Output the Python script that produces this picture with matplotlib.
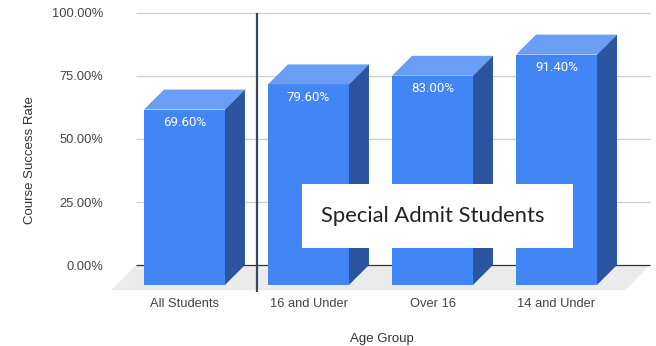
import matplotlib
matplotlib.use("Agg")
import matplotlib.pyplot as plt
from matplotlib.patches import Polygon, Rectangle

# data
groups = ["All Students", "16 and Under", "Over 16", "14 and Under"]
rates = [69.6, 79.6, 83.0, 91.4]
yticks = [0, 25, 50, 75, 100]

front_c = "#4285f4"
top_c = "#6a9ef5"
side_c = "#2b55a0"

# 3d look: depth offset in data units
dx, dy = 0.161, 7.9
w = 0.653

fig = plt.figure(figsize=(6.56, 3.46), dpi=100)
ax = fig.add_axes([108 / 656, (346 - 292) / 346, 548 / 656, 287 / 346])
ax.set_xlim(-0.617, 3.802)
ax.set_ylim(-10.71, 103.17)
for s in ax.spines.values():
    s.set_visible(False)

x = list(range(len(groups)))

# floor
ax.add_patch(Polygon([(-0.39, 0), (3.754, 0), (3.754 - 0.2, -10), (-0.39 - 0.2, -10)],
                     closed=True, facecolor="#ebebeb", edgecolor="none", zorder=0))

# gridlines on back wall
for t in yticks:
    ax.hlines(t, -0.39, 3.754, color="#333333" if t == 0 else "#cccccc",
              lw=0.9, zorder=0.5)

# front faces
ax.bar(x, rates, width=w, bottom=-dy, color=front_c, zorder=2)
for xi, v in zip(x, rates):
    l, r = xi - w / 2, xi + w / 2
    ax.add_patch(Polygon([(l, v - dy), (r, v - dy), (r + dx, v), (l + dx, v)],
                         closed=True, facecolor=top_c, edgecolor="none", zorder=2))
    ax.add_patch(Polygon([(r, -dy), (r + dx, 0), (r + dx, v), (r, v - dy)],
                         closed=True, facecolor=side_c, edgecolor="none", zorder=2))
    ax.text(xi, v - dy - 5.2, f"{v:.2f}%", color="white", ha="center", va="center",
            fontsize=9.5, family="Roboto", zorder=3)

# divider between overall and special admit groups
ax.vlines(0.585, -12.7, 100, color="#34476b", lw=1.6, zorder=3)

# annotation box
ax.add_patch(Rectangle((0.948, 6.75), 3.133 - 0.948, 32.14 - 6.75,
                       facecolor="white", edgecolor="none", zorder=4))
ax.text(2.0, 19.4, "Special Admit Students", ha="center", va="center",
        fontsize=15.8, family="Lato", color="#222222", zorder=5)

ax.set_yticks(yticks)
ax.set_yticklabels([f"{t:.2f}%" for t in yticks], family="Liberation Sans",
                   fontsize=9.3, color="#444444")
ax.set_xticks(x)
ax.set_xticklabels(groups, family="Liberation Sans", fontsize=9.3, color="#444444")
ax.tick_params(axis="y", length=0, pad=3.6)
ax.tick_params(axis="x", length=0, pad=4.0)

ax.set_xlabel("Age Group", family="Liberation Sans", fontsize=9.5, color="#333333",
              labelpad=17)
ax.set_ylabel("Course Success Rate", family="Liberation Sans", fontsize=9.5,
              color="#333333")
ax.yaxis.set_label_coords(-0.131, 0.46)

fig.savefig("out.png", dpi=100)
